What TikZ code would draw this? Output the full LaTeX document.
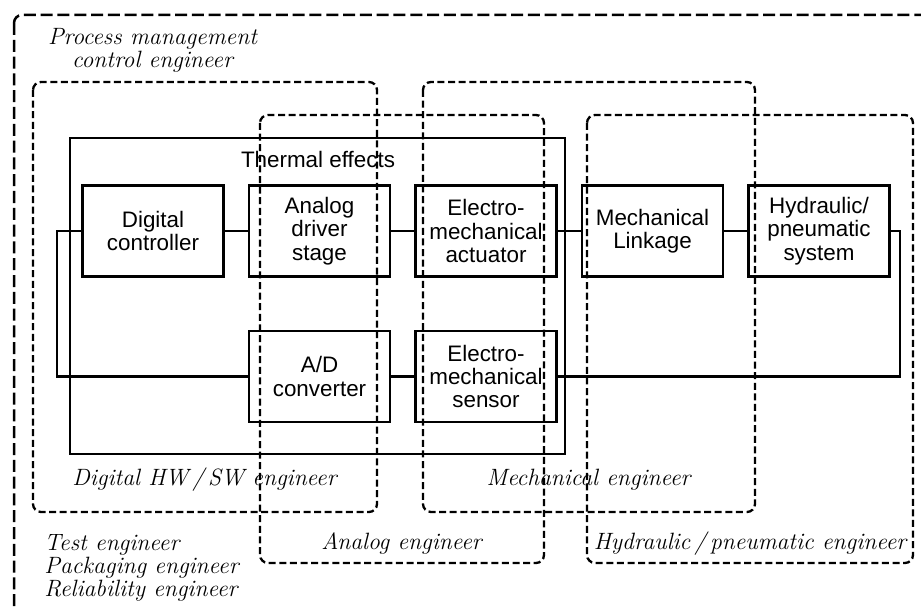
\documentclass[tikz,border=0pt]{standalone}
\usepackage{fontspec}
\newfontfamily\blockfont{Liberation Sans}
\usetikzlibrary{positioning}

\tikzset{
  block/.style={draw, line width=1.25pt, minimum width=70.5pt, minimum height=45.5pt,
    inner sep=1pt, align=center, font=\blockfont\fontsize{11.2}{11.7}\selectfont},
  wire/.style={line width=1.25pt},
  team/.style={line width=1.15pt, rounded corners=4pt, dash pattern=on 3.5pt off 1.8pt},
  allteam/.style={line width=1.25pt, rounded corners=4pt, dash pattern=on 6pt off 2.4pt},
  role/.style={inner sep=0pt, font=\itshape\fontsize{11.8}{11.5}\selectfont}
}

\begin{document}
\begin{tikzpicture}[x=0.5pt, y=-0.5pt, node distance=26pt and 11.5pt]
\useasboundingbox (0,0) rectangle (921,610);
\clip (0,0) rectangle (921,610);

\node[block] (dc) at (153,231) {Digital\\controller};
\node[block, right=of dc] (ads) {Analog\\driver\\stage};
\node[block, right=of ads] (ema) {Electro-\\mechanical\\actuator};
\node[block, right=of ema] (ml) {Mechanical\\Linkage};
\node[block, right=of ml] (hps) {Hydraulic/\\pneumatic\\system};
\node[block, below=of ads] (adc) {A/D\\converter};
\node[block, below=of ema] (ems) {Electro-\\mechanical\\sensor};

\draw[wire] (70,138) rectangle (565,454);
\node[anchor=base, font=\blockfont\fontsize{11.2}{11.7}\selectfont] (thermal) at (318,168) {Thermal effects};

\coordinate (fbl) at (57,0);
\coordinate (fbr) at (900,0);
\draw[wire] (dc) -- (ads);
\draw[wire] (ads) -- (ema);
\draw[wire] (ema) -- (ml);
\draw[wire] (ml) -- (hps);
\draw[wire] (adc) -- (ems);
\draw[wire] (hps.east) -| (fbr |- ems.east) -- (ems.east);
\draw[wire] (adc.west) -| (fbl |- dc.west) -- (dc.west);

% teams
\draw[allteam] (14,15) rectangle (960,660);
\draw[team] (33,82) rectangle (377,512);
\draw[team] (260,115) rectangle (544,563);
\draw[team] (423,82) rectangle (755,512);
\draw[team] (587,115) rectangle (913,563);

\node[role, anchor=north, align=center] (process) at (152.5,28) {Process management\\control engineer};
\node[role, anchor=base] (digital) at (204.5,485) {Digital HW\,/\,SW engineer};
\node[role, anchor=base] (analog) at (401.5,549) {Analog engineer};
\node[role, anchor=base] (mech) at (588.5,485) {Mechanical engineer};
\node[role, anchor=base] (hydr) at (750,549) {Hydraulic\,/\,pneumatic engineer};
\node[role, anchor=north west, align=left] (others) at (44,534) {Test engineer\\Packaging engineer\\Reliability engineer};
\end{tikzpicture}
\end{document}
